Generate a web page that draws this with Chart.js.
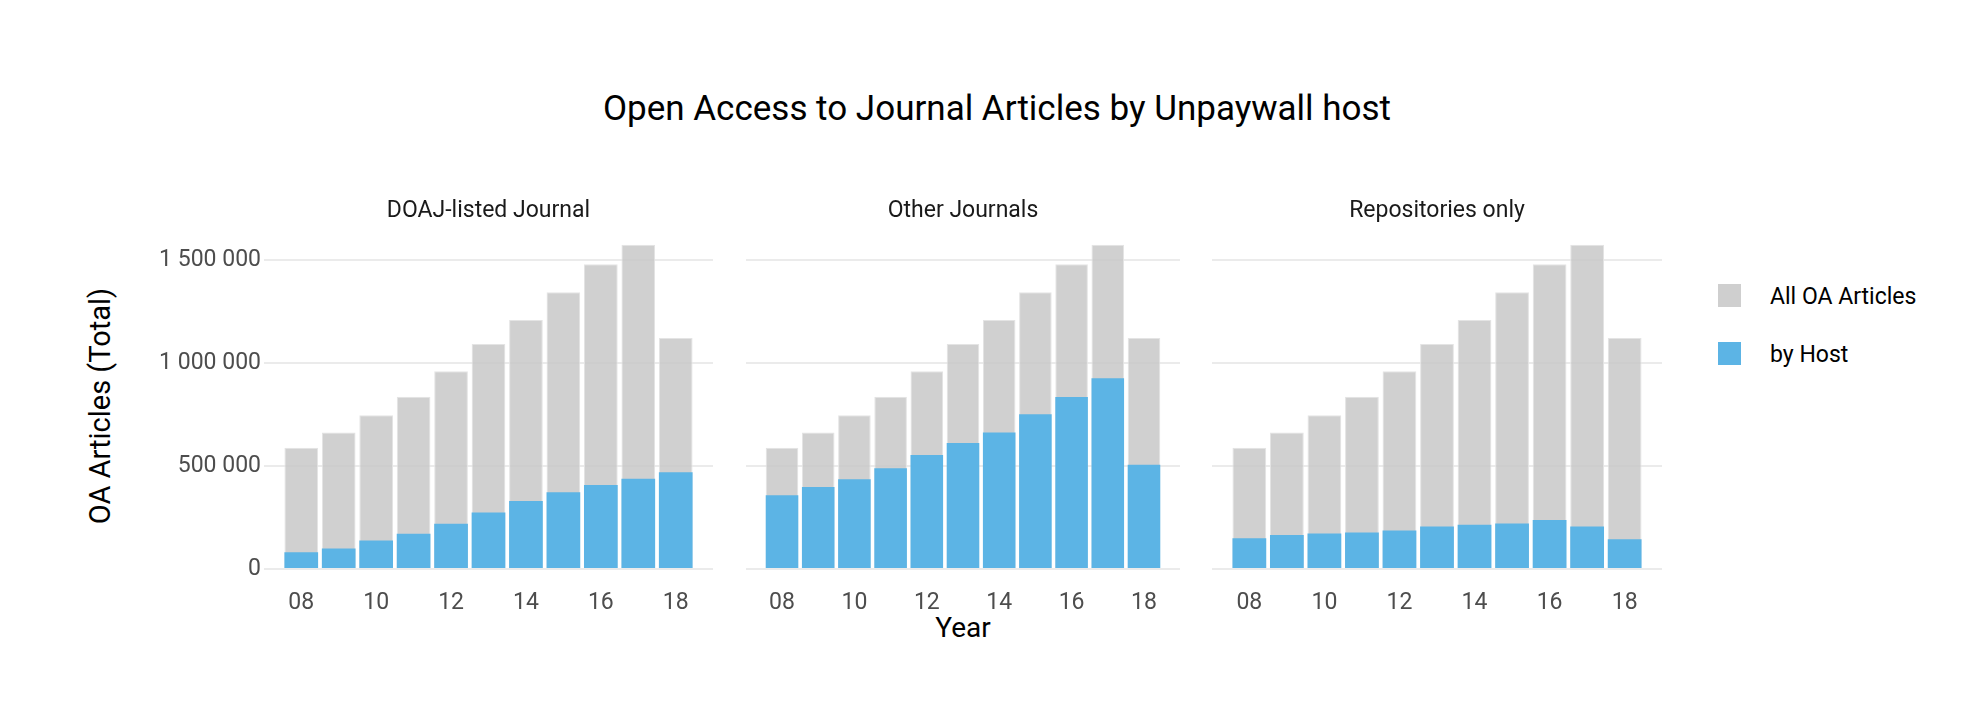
<!DOCTYPE html>
<html>
<head>
<meta charset="utf-8">
<script src="https://cdn.jsdelivr.net/npm/chart.js@4.4.1/dist/chart.umd.min.js"></script>
<style>
html,body{margin:0;padding:0;background:#fff;}
#wrap{position:relative;width:1962px;height:706px;overflow:hidden;font-family:Roboto,"Noto Sans",sans-serif;background:#fff;}
.cv{position:absolute;}
.ctr{position:absolute;transform:translate(-50%,-50%);white-space:nowrap;line-height:1;}
#title{left:997px;top:108px;font-size:35px;color:#000;}
#ytitle{left:100px;top:406px;font-size:29px;color:#000;transform:translate(-50%,-50%) rotate(-90deg);}
#xtitle{left:963px;top:628px;font-size:28px;color:#000;}
.lkey{position:absolute;width:23px;height:23px;}
.ltxt{position:absolute;font-size:23px;color:#000;line-height:1;white-space:nowrap;transform:translateY(-50%);}
</style>
</head>
<body>
<div id="wrap">
  <div id="title" class="ctr">Open Access to Journal Articles by Unpaywall host</div>
  <div id="ytitle" class="ctr">OA Articles (Total)</div>
  <div id="xtitle" class="ctr">Year</div>
  <div id="legend"></div>
  <div class="cv" style="left:64px;top:180px;width:649px;height:460px"><canvas id="c0"></canvas></div>
  <div class="cv" style="left:746px;top:180px;width:434px;height:460px"><canvas id="c1"></canvas></div>
  <div class="cv" style="left:1212px;top:180px;width:450px;height:460px"><canvas id="c2"></canvas></div>
</div>
<script>
// ---- data ----
const years = [2008, 2009, 2010, 2011, 2012, 2013, 2014, 2015, 2016, 2017, 2018];
const tickYears = [2008, 2010, 2012, 2014, 2016, 2018];
const yTicks = [0, 500000, 1000000, 1500000];
const panelTitles = ["DOAJ-listed Journal", "Other Journals", "Repositories only"];
const seriesNames = ["All OA Articles", "by Host"];
const allOA     = [590000, 664000, 748000, 837000, 962000, 1094000, 1211000, 1345000, 1482000, 1576000, 1123000];
const doajHost  = [81000, 100000, 139000, 171000, 220000, 275000, 331000, 373000, 409000, 439000, 470000];
const otherHost = [359000, 399000, 436000, 490000, 554000, 612000, 664000, 752000, 836000, 928000, 507000];
const repoHost  = [150000, 165000, 173000, 178000, 187000, 207000, 215000, 221000, 238000, 207000, 145000];
const hostSeries = [doajHost, otherHost, repoHost];

const greyFill = 'rgba(200,200,200,0.85)';
const blueFill = '#5cb4e5';
const legendColors = ['#cfcfcf', blueFill];

// ---- legend ----
const leg = document.getElementById('legend');
seriesNames.forEach((name, i) => {
  const k = document.createElement('div');
  k.className = 'lkey';
  k.style.left = '1718px';
  k.style.top = (284 + i * 58) + 'px';
  k.style.background = legendColors[i];
  leg.appendChild(k);
  const t = document.createElement('div');
  t.className = 'ltxt';
  t.style.left = '1770px';
  t.style.top = (295.5 + i * 58) + 'px';
  t.textContent = name;
  leg.appendChild(t);
});

const fmt = v => String(v).replace(/\B(?=(\d{3})+(?!\d))/g, ' ');
const toPts = arr => years.map((y, i) => ({x: y, y: arr[i]}));

function makeChart(id, idx) {
  const first = idx === 0;
  new Chart(document.getElementById(id), {
    type: 'bar',
    data: {
      datasets: [
        {label: seriesNames[1], data: toPts(hostSeries[idx]), backgroundColor: blueFill, borderWidth: 0, order: 0},
        {label: seriesNames[0], data: toPts(allOA), backgroundColor: greyFill, borderColor: 'rgba(228,228,228,1)', borderWidth: 1, order: 1}
      ]
    },
    options: {
      responsive: true,
      maintainAspectRatio: false,
      animation: false,
      layout: {padding: 0},
      datasets: {bar: {grouped: false, barPercentage: 0.9, categoryPercentage: 1}},
      plugins: {
        legend: {display: false},
        tooltip: {enabled: false},
        title: {
          display: true,
          fullSize: false,
          text: panelTitles[idx],
          font: {family: 'Roboto', size: 23, weight: 'normal'},
          color: '#1a1a1a',
          padding: {top: 17, bottom: 4}
        }
      },
      scales: {
        x: {
          type: 'linear',
          offset: false,
          min: 2007.005,
          max: 2018.995,
          grid: {display: false, drawTicks: false, offset: false},
          border: {display: false},
          afterBuildTicks: s => { s.ticks = tickYears.map(v => ({value: v})); },
          afterFit: s => { s.height = 71; },
          ticks: {
            callback: v => String(v).slice(2),
            font: {family: 'Roboto', size: 23},
            color: '#4d4d4d',
            padding: 20,
            maxRotation: 0,
            autoSkip: false
          }
        },
        y: {
          min: 0,
          max: 1655000,
          grid: {color: '#ebebeb', lineWidth: 2, drawTicks: false},
          border: {display: false},
          afterBuildTicks: s => { s.ticks = yTicks.map(v => ({value: v})); },
          afterFit: s => { s.width = first ? 200 : 0; },
          ticks: {
            display: first,
            callback: v => fmt(v),
            font: {family: 'Roboto', size: 23},
            color: '#4d4d4d',
            padding: 3
          }
        }
      }
    }
  });
}
makeChart('c0', 0);
makeChart('c1', 1);
makeChart('c2', 2);
</script>
</body>
</html>
